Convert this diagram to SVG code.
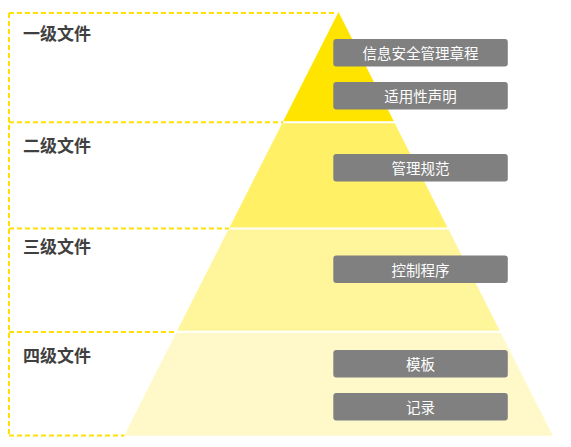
<svg xmlns="http://www.w3.org/2000/svg" width="571" height="447" viewBox="0 0 571 447">
  <style>
    .lvl { font-family: "Noto Sans CJK SC", "Noto Sans", sans-serif; font-size: 17px; font-weight: bold; fill: #404040; }
    .box { fill: #808080; }
    .bt { font-family: "Noto Sans CJK SC", "Noto Sans", sans-serif; font-size: 14.5px; fill: #ffffff; text-anchor: middle; dominant-baseline: central; }
    .dash { fill: none; stroke: #FFE000; stroke-width: 2; stroke-dasharray: 5 3; }
  </style>
  <rect width="571" height="447" fill="#ffffff"/>
  <g id="connectors">
    <path class="dash" d="M9,13 H336 M9,13 V435.5 M9,122.3 H283 M9,228.5 H229 M9,332 H176.5 M9,435.5 H124.5"/>
  </g>
  <g id="tier1">
    <polygon points="338.5,12 393.8,121.3 283.2,121.3" fill="#FFE400"/>
    <text class="lvl" x="23" y="40">一级文件</text>
  </g>
  <g id="tier2">
    <polygon points="282.2,123.3 394.8,123.3 447.5,227.5 229.5,227.5" fill="#FFF066"/>
    <text class="lvl" x="23" y="152">二级文件</text>
  </g>
  <g id="tier3">
    <polygon points="228.4,229.5 448.6,229.5 499.8,330.7 177.2,330.7" fill="#FFF59B"/>
    <text class="lvl" x="23" y="253">三级文件</text>
  </g>
  <g id="tier4">
    <polygon points="176.2,332.7 500.8,332.7 552.9,435.7 124.1,435.7" fill="#FFF9CA"/>
    <text class="lvl" x="23" y="362">四级文件</text>
  </g>
  <g id="box1">
    <rect class="box" x="333.3" y="39" width="174.5" height="27.5" rx="3"/>
    <text class="bt" x="420.5" y="52.8">信息安全管理章程</text>
  </g>
  <g id="box2">
    <rect class="box" x="333.3" y="82" width="174.5" height="27.5" rx="3"/>
    <text class="bt" x="420.5" y="95.8">适用性声明</text>
  </g>
  <g id="box3">
    <rect class="box" x="333.3" y="154" width="174.5" height="27.5" rx="3"/>
    <text class="bt" x="420.5" y="167.8">管理规范</text>
  </g>
  <g id="box4">
    <rect class="box" x="333.3" y="255.5" width="174.5" height="27.5" rx="3"/>
    <text class="bt" x="420.5" y="269.2">控制程序</text>
  </g>
  <g id="box5">
    <rect class="box" x="333.3" y="350" width="174.5" height="27.5" rx="3"/>
    <text class="bt" x="420.5" y="363.8">模板</text>
  </g>
  <g id="box6">
    <rect class="box" x="333.3" y="393" width="174.5" height="27.5" rx="3"/>
    <text class="bt" x="420.5" y="406.8">记录</text>
  </g>
</svg>
